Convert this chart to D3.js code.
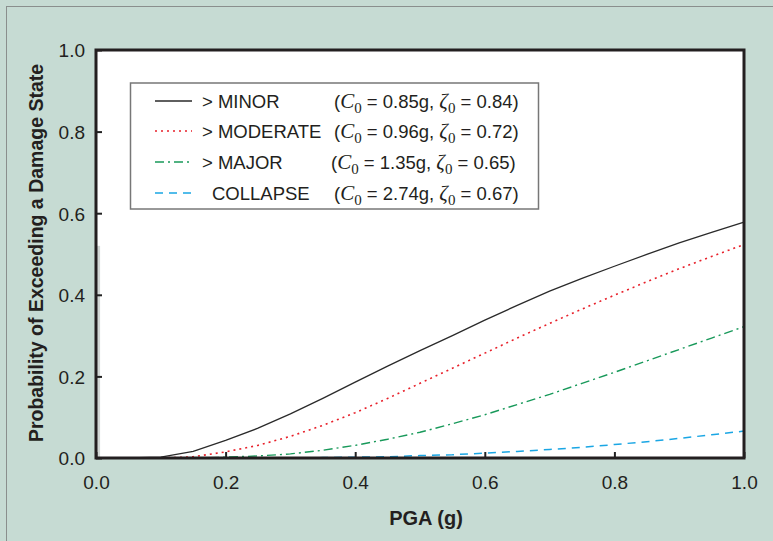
<!DOCTYPE html>
<html>
<head>
<meta charset="utf-8">
<script src="https://cdn.jsdelivr.net/npm/d3@7"></script>
<style>
  body { margin: 0; background: #c6dbd3; }
  svg { display: block; }
</style>
</head>
<body>
<script>
// values
const pga = [0, 0.05, 0.1, 0.15, 0.2, 0.25, 0.3, 0.35, 0.4, 0.45, 0.5,
             0.55, 0.6, 0.65, 0.7, 0.75, 0.8, 0.85, 0.9, 0.95, 1.0];
const minor    = [0, 0, 0.002, 0.016, 0.043, 0.073, 0.108, 0.146, 0.186, 0.225, 0.263,
                  0.300, 0.338, 0.374, 0.409, 0.440, 0.470, 0.499, 0.527, 0.553, 0.578];
const moderate = [0, 0, 0, 0.003, 0.015, 0.031, 0.053, 0.080, 0.111, 0.146, 0.183,
                  0.220, 0.257, 0.294, 0.330, 0.365, 0.399, 0.432, 0.464, 0.494, 0.523];
const major    = [0, 0, 0, 0, 0.002, 0.005, 0.010, 0.019, 0.031, 0.046, 0.063,
                  0.084, 0.106, 0.131, 0.156, 0.183, 0.210, 0.238, 0.266, 0.294, 0.322];
const collapse = [0, 0, 0, 0, 0, 0, 0, 0.001, 0.002, 0.003, 0.006,
                  0.008, 0.012, 0.016, 0.021, 0.026, 0.033, 0.040, 0.048, 0.057, 0.066];

const seriesNames = ["> MINOR", "> MODERATE", "> MAJOR", "COLLAPSE"];
const medians = ["0.85", "0.96", "1.35", "2.74"];
const betas = ["0.84", "0.72", "0.65", "0.67"];
const xTicks = [0, 0.2, 0.4, 0.6, 0.8, 1.0];
const yTicks = [0, 0.2, 0.4, 0.6, 0.8, 1.0];

const W = 773, H = 541;
const pLeft = 96, pRight = 744, pTop = 50, pBottom = 458;
const sans = "'Liberation Sans', Arial, sans-serif";
const serif = "'Liberation Serif', 'Times New Roman', serif";

const svg = d3.select("body").append("svg")
  .attr("width", W)
  .attr("height", H);

svg.append("rect")
  .attr("x", 6.5).attr("y", 6.5)
  .attr("width", W + 20).attr("height", H + 20)
  .attr("fill", "#c6dbd3")
  .attr("stroke", "#8a8f8d")
  .attr("stroke-width", 1);

const x = d3.scaleLinear().domain([0, 1]).range([pLeft, pRight]);
const y = d3.scaleLinear().domain([0, 1]).range([pBottom, pTop]);

svg.append("rect")
  .attr("x", pLeft).attr("y", pTop)
  .attr("width", pRight - pLeft).attr("height", pBottom - pTop)
  .attr("fill", "#fff");

// faint grey spike at the left edge seen in the picture
svg.append("line")
  .attr("x1", x(0.004)).attr("x2", x(0.004))
  .attr("y1", y(0)).attr("y2", y(0.52))
  .attr("stroke", "#d3d8d6")
  .attr("stroke-width", 3);

const styles = [
  { color: "#2a2a2a", dash: null, width: 1.3 },
  { color: "#e8202a", dash: "2,4", width: 1.6 },
  { color: "#18995a", dash: "9,4,2,4", width: 1.4 },
  { color: "#1aa6e4", dash: "8,6", width: 1.5 }
];
const allSeries = [minor, moderate, major, collapse];

const line = d3.line()
  .x((d, i) => x(pga[i]))
  .y(d => y(d));

allSeries.forEach((s, k) => {
  svg.append("path")
    .datum(s)
    .attr("d", line)
    .attr("fill", "none")
    .attr("stroke", styles[k].color)
    .attr("stroke-width", styles[k].width)
    .attr("stroke-dasharray", styles[k].dash);
});

// axes with inward ticks
const xAxis = svg.append("g")
  .attr("transform", `translate(0,${pBottom})`)
  .call(d3.axisBottom(x).tickValues(xTicks).tickFormat(d3.format(".1f"))
    .tickSizeInner(-6).tickSizeOuter(0).tickPadding(18));
const yAxis = svg.append("g")
  .attr("transform", `translate(${pLeft},0)`)
  .call(d3.axisLeft(y).tickValues(yTicks).tickFormat(d3.format(".1f"))
    .tickSizeInner(-6).tickSizeOuter(0).tickPadding(11));

[xAxis, yAxis].forEach(g => {
  g.select(".domain").remove();
  g.selectAll(".tick line").attr("stroke", "#222").attr("stroke-width", 2);
  g.selectAll(".tick text")
    .attr("fill", "#231f20")
    .style("font-family", sans)
    .style("font-size", "19px");
});
yAxis.selectAll(".tick text").attr("dy", "0.36em");

svg.append("rect")
  .attr("x", pLeft).attr("y", pTop)
  .attr("width", pRight - pLeft).attr("height", pBottom - pTop)
  .attr("fill", "none")
  .attr("stroke", "#231f20")
  .attr("stroke-width", 3);

svg.append("text")
  .attr("x", 426)
  .attr("y", 525)
  .attr("text-anchor", "middle")
  .style("font-family", sans)
  .style("font-size", "20px")
  .style("font-weight", "bold")
  .attr("fill", "#231f20")
  .text("PGA (g)");

svg.append("text")
  .attr("transform", `translate(43,253) rotate(-90)`)
  .attr("text-anchor", "middle")
  .style("font-family", sans)
  .style("font-size", "19.5px")
  .style("font-weight", "bold")
  .attr("fill", "#231f20")
  .text("Probability of Exceeding a Damage State");

// legend
const legend = svg.append("g");
legend.append("rect")
  .attr("x", 130.5).attr("y", 83)
  .attr("width", 408).attr("height", 126)
  .attr("fill", "#fff")
  .attr("stroke", "#777")
  .attr("stroke-width", 1.5);

const rowY = [101, 131, 162, 193];
const parenX = [334, 334, 331, 334];
seriesNames.forEach((name, k) => {
  legend.append("line")
    .attr("x1", 155).attr("x2", 192)
    .attr("y1", rowY[k]).attr("y2", rowY[k])
    .attr("stroke", styles[k].color)
    .attr("stroke-width", styles[k].width)
    .attr("stroke-dasharray", styles[k].dash);

  legend.append("text")
    .attr("x", k === 3 ? 212 : 202)
    .attr("y", rowY[k] + 6.5)
    .style("font-family", sans)
    .style("font-size", "18.5px")
    .attr("fill", "#231f20")
    .text(name);

  const t = legend.append("text")
    .attr("x", parenX[k])
    .attr("y", rowY[k] + 6.5)
    .style("font-family", sans)
    .style("font-size", "18.5px")
    .attr("fill", "#231f20");
  t.append("tspan").text("(");
  t.append("tspan").style("font-family", serif)
    .style("font-style", "italic").style("font-size", "21px").text("C");
  t.append("tspan").style("font-family", serif)
    .style("font-size", "15px").attr("dy", 5).text("0");
  t.append("tspan").attr("dy", -5).text(` = ${medians[k]}g, `);
  t.append("tspan").style("font-family", serif)
    .style("font-style", "italic").style("font-size", "21px").text("ζ");
  t.append("tspan").style("font-family", serif)
    .style("font-size", "15px").attr("dy", 5).text("0");
  t.append("tspan").attr("dy", -5).text(` = ${betas[k]})`);
});
</script>
</body>
</html>
